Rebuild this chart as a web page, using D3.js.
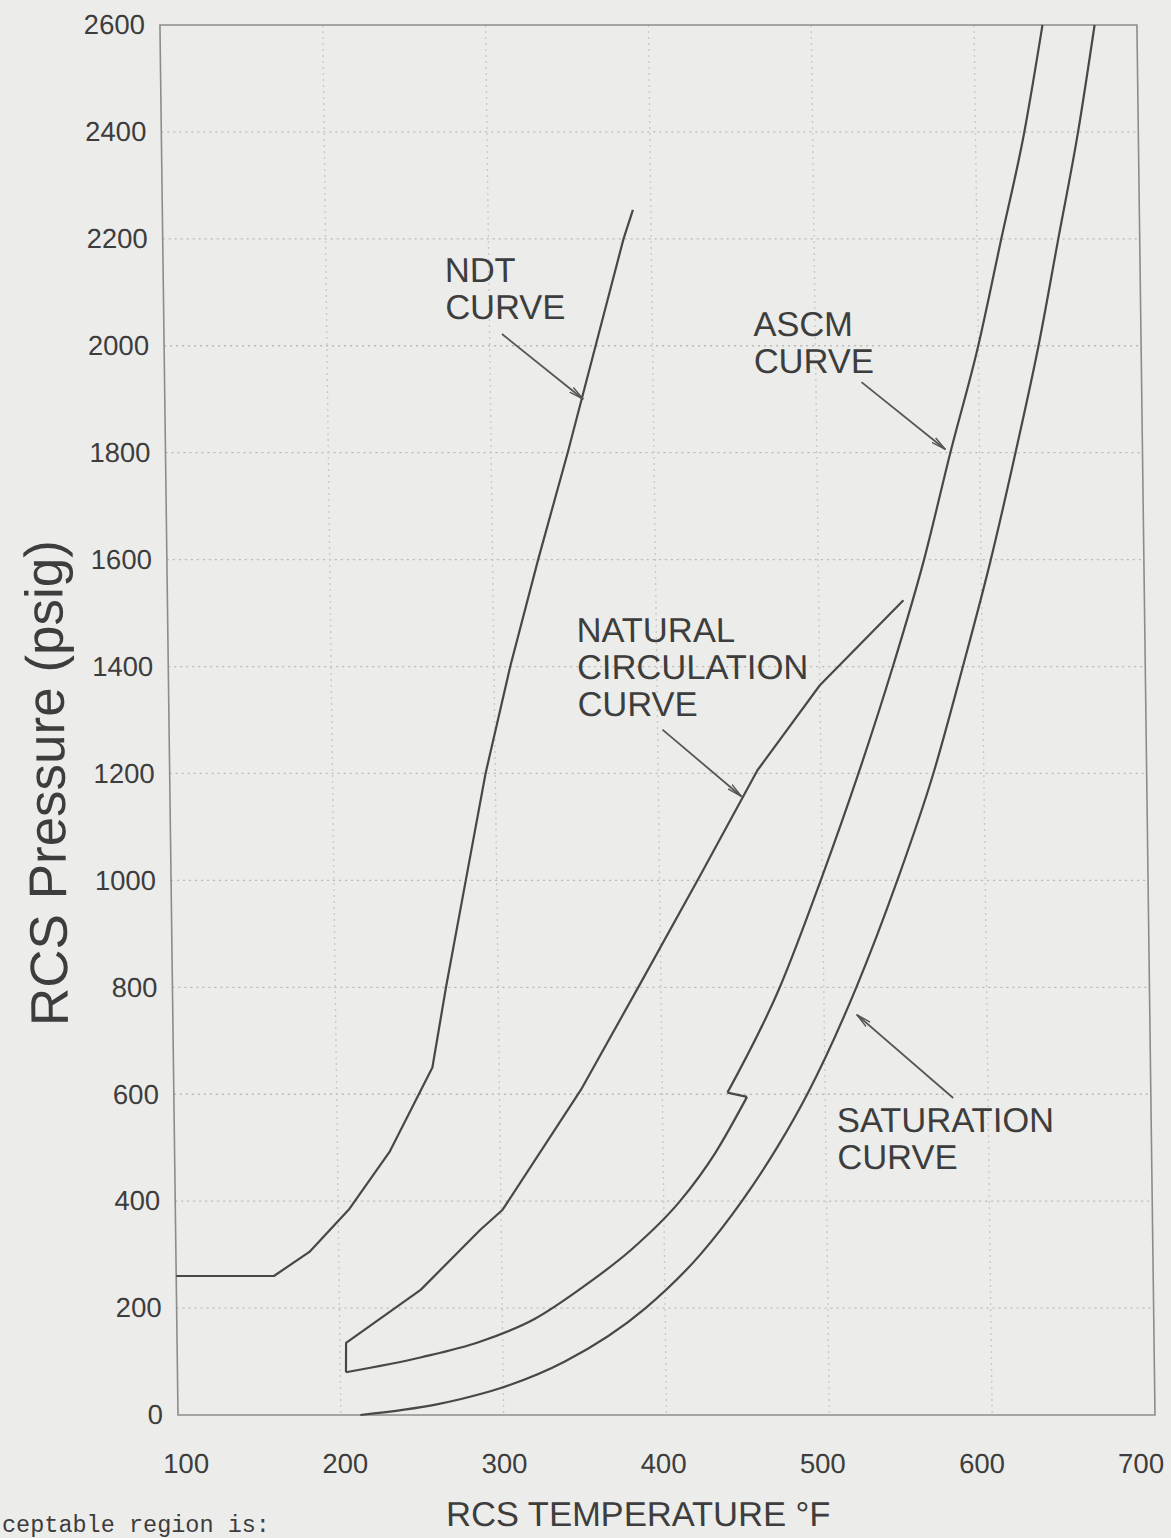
<!DOCTYPE html>
<html>
<head>
<meta charset="utf-8">
<script src="https://cdn.jsdelivr.net/npm/d3@7"></script>
<style>
  html, body { margin: 0; padding: 0; background: #ececea; }
  svg { display: block; }
  text { font-family: "Liberation Sans", Arial, Helvetica, sans-serif; fill: #3d3d3d; }
</style>
</head>
<body>
<script>
// Axis ticks
const tempTicks = [100, 200, 300, 400, 500, 600, 700];
const pressTicks = [0, 200, 400, 600, 800, 1000, 1200, 1400, 1600, 1800, 2000, 2200, 2400, 2600];

// NDT curve (°F, psig)
const ndtTemp  = [100, 160, 182, 207, 232, 259, 268, 281, 294, 310, 328, 347, 365, 383, 389];
const ndtPress = [260, 260, 305, 386, 492, 650, 800, 1000, 1200, 1400, 1600, 1800, 2000, 2200, 2254];

// Natural circulation curve
const ncTemp  = [203.5, 203.8, 250, 287, 301, 350, 387, 425, 461, 500, 552];
const ncPress = [80, 135, 234, 346, 384, 608, 805, 1009, 1206, 1365, 1524];

// ASCM curve: low-pressure branch, then the branch above the 600 psig step
const ascmLowTemp  = [203.5, 250, 286, 320, 350, 380, 410, 432, 452];
const ascmLowPress = [80, 108, 137, 180, 240, 310, 400, 490, 595];
const ascmHighTemp  = [440, 473, 499, 523, 545, 565, 582, 600, 615, 630, 642];
const ascmHighPress = [603, 800, 1000, 1200, 1400, 1600, 1800, 2000, 2200, 2400, 2600];

// Saturation curve
const satTemp  = [212, 239, 259, 274, 298, 338, 388, 422, 448, 470, 489, 520, 546, 569, 588, 606, 622, 637, 650, 663, 674];
const satPress = [0, 10, 20, 30, 50, 100, 200, 300, 400, 500, 600, 800, 1000, 1200, 1400, 1600, 1800, 2000, 2200, 2400, 2600];

// Curve callouts: label lines, label anchor and arrow (tail -> tip), in °F / psig
const calloutLines = [["NDT", "CURVE"], ["ASCM", "CURVE"], ["NATURAL", "CIRCULATION", "CURVE"], ["SATURATION", "CURVE"]];
const calloutAt    = [[273, 2119], [462, 2018], [351, 1445], [507, 530]];
const arrowFrom    = [[307.6, 2022], [528, 1932], [403, 1282], [578.6, 593]];
const arrowTo      = [[357, 1900], [579, 1806], [451, 1157], [520, 749]];

const W = 1171, H = 1538;
const plotL = 178, plotR = 1155, plotT = 25, plotB = 1415;

const svg = d3.select("body").append("svg").attr("width", W).attr("height", H);

// The sheet is slightly sheared: verticals lean left toward the top.
const root = svg.append("g")
  .attr("transform", `translate(0,${plotB}) skewX(0.745) translate(0,${-plotB})`);

const x = d3.scaleLinear().domain([100, 700]).range([plotL, plotR]);
const y = d3.scaleLinear().domain([0, 2600]).range([plotB, plotT]);
// temperature labels sit slightly inside the frame ends
const xLabel = x.copy().range([185, 1140]);

// Dotted grid
const grid = root.append("g").attr("stroke", "#b9b9b6").attr("stroke-width", 1.3)
  .attr("stroke-dasharray", "2,4");
grid.selectAll("line.h").data(pressTicks.filter(d => d > 0 && d < 2600)).join("line")
  .attr("class", "h")
  .attr("x1", plotL).attr("x2", plotR).attr("y1", d => y(d)).attr("y2", d => y(d));
grid.selectAll("line.v").data(tempTicks.filter(d => d > 100 && d < 700)).join("line")
  .attr("class", "v")
  .attr("y1", plotT).attr("y2", plotB).attr("x1", d => x(d)).attr("x2", d => x(d))
  .attr("stroke", "#c8c8c5");

// Frame
root.append("rect").attr("x", plotL).attr("y", plotT).attr("width", plotR - plotL).attr("height", plotB - plotT)
  .attr("fill", "none").attr("stroke", "#8c8c8a").attr("stroke-width", 1.6);

// Axes (labels only)
const xAxis = root.append("g").attr("transform", `translate(0,${plotB + 38})`)
  .call(d3.axisBottom(xLabel).tickValues(tempTicks).tickFormat(d3.format("d")).tickSize(0).tickPadding(0));
xAxis.select(".domain").remove();
xAxis.selectAll("text").attr("font-size", 27.5).attr("fill", "#444").attr("dy", "0.71em")
  .style("font-family", "'Liberation Sans', Arial, sans-serif");

const yAxis = root.append("g").attr("transform", `translate(${plotL - 15},0)`)
  .call(d3.axisLeft(y).tickValues(pressTicks).tickFormat(d3.format("d")).tickSize(0).tickPadding(0));
yAxis.select(".domain").remove();
yAxis.selectAll("text").attr("font-size", 27.5).attr("fill", "#444")
  .style("font-family", "'Liberation Sans', Arial, sans-serif");

// Axis titles
root.append("text").attr("transform", `translate(73,${783}) rotate(-90)`)
  .attr("text-anchor", "middle").attr("font-size", 53)
  .text("RCS Pressure (psig)");
root.append("text").attr("x", 637).attr("y", 1526).attr("text-anchor", "middle")
  .attr("font-size", 34.5).text("RCS TEMPERATURE °F");

// Curves
const pts = (t, p) => t.map((v, i) => [v, p[i]]);
const straight = d3.line().x(d => x(d[0])).y(d => y(d[1]));
const smooth = d3.line().x(d => x(d[0])).y(d => y(d[1])).curve(d3.curveMonotoneX);

const ascmLow = pts(ascmLowTemp, ascmLowPress);
const ascmHigh = pts(ascmHighTemp, ascmHighPress);
const paths = [
  straight(pts(ndtTemp, ndtPress)),
  straight(pts(ncTemp, ncPress)),
  smooth(ascmLow) + straight([ascmLow[ascmLow.length - 1], ascmHigh[0]]) + smooth(ascmHigh),
  smooth(pts(satTemp, satPress))
];
root.append("g").attr("fill", "none").attr("stroke", "#484846").attr("stroke-width", 2.2)
  .attr("stroke-linejoin", "round")
  .selectAll("path").data(paths).join("path").attr("d", d => d);

// Arrowhead
svg.append("defs").append("marker").attr("id", "head")
  .attr("viewBox", "0 -4 16 8").attr("refX", 15).attr("refY", 0)
  .attr("markerWidth", 16).attr("markerHeight", 8).attr("markerUnits", "userSpaceOnUse")
  .attr("orient", "auto")
  .append("path").attr("d", "M0,-3 L15,0 L0,3").attr("fill", "none")
  .attr("stroke", "#555").attr("stroke-width", 1.4);

const callouts = root.append("g");
calloutLines.forEach((lines, i) => {
  const [t, p] = calloutAt[i];
  const txt = callouts.append("text").attr("x", x(t)).attr("y", y(p)).attr("font-size", 34.5);
  lines.forEach((s, j) => txt.append("tspan").attr("x", x(t)).attr("dy", j === 0 ? 0 : 37).text(s));
  callouts.append("line")
    .attr("x1", x(arrowFrom[i][0])).attr("y1", y(arrowFrom[i][1]))
    .attr("x2", x(arrowTo[i][0])).attr("y2", y(arrowTo[i][1]))
    .attr("stroke", "#555").attr("stroke-width", 1.8)
    .attr("marker-end", "url(#head)");
});

// Running text beneath the chart
svg.append("text").attr("x", 2).attr("y", 1532)
  .style("font-family", "'Liberation Mono', 'Courier New', monospace")
  .attr("font-size", 23.5).attr("fill", "#3a3a3a").text("ceptable region is:");
</script>
</body>
</html>
